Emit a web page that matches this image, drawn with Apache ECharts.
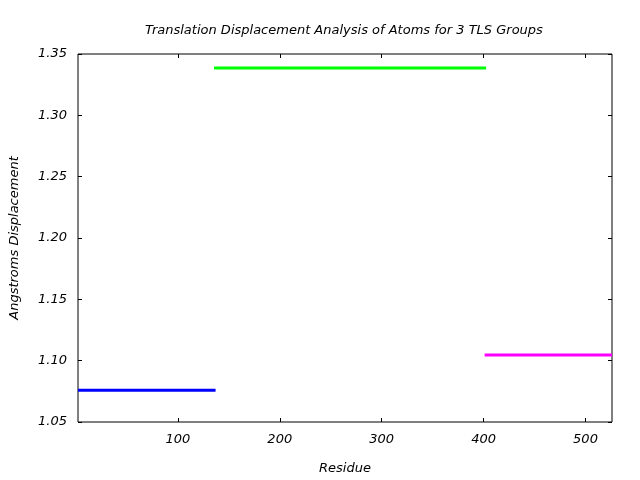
<!DOCTYPE html>
<html><head><meta charset="utf-8">
<script src="https://cdn.jsdelivr.net/npm/echarts@6/dist/echarts.min.js"></script>
<style>html,body{margin:0;padding:0;background:#fff}#c{width:640px;height:480px}</style>
</head><body><div id="c"></div>
<script>
const titleText = "Translation Displacement Analysis of Atoms for 3 TLS Groups";
const xName = "Residue";
const yName = "Angstroms Displacement";
const xMin = 2, xMax = 526;
const yMin = 1.05, yMax = 1.35;
const xTicks = [100, 200, 300, 400, 500];
const yTicks = [1.05, 1.10, 1.15, 1.20, 1.25, 1.30, 1.35];
const groupNames = ["TLS Group 1", "TLS Group 2", "TLS Group 3"];
const groupStart = [2, 135.5, 401];
const groupEnd = [137, 402.5, 526];
const groupValue = [1.0758, 1.3386, 1.1046];
const groupColors = ["#0000ff", "#00ff00", "#ff00ff"];

const font = "DejaVu Sans";
const fs = 13;
const series = groupNames.map((n, i) => ({
  name: n, type: "line", symbol: "none", animation: false,
  lineStyle: { color: groupColors[i], width: 3 },
  data: [[groupStart[i], groupValue[i]], [groupEnd[i], groupValue[i]]],
  xAxisIndex: 0, yAxisIndex: 0, z: 1
}));

const tickStyle = { show: true, inside: true, length: 4, lineStyle: { color: "#000", width: 1 } };
const chart = echarts.init(document.getElementById("c"), null, { renderer: "canvas" });
chart.setOption({
  animation: false,
  title: { text: titleText, left: 140, top: 19,
    textStyle: { fontFamily: font, fontStyle: "italic", fontWeight: "normal", fontSize: fs, color: "#000" } },
  grid: { left: 76, right: 28, top: 54, bottom: 58, show: true, borderColor: "#000", borderWidth: 1, backgroundColor: "transparent" },
  xAxis: [
    { type: "value", min: xMin, max: xMax, position: "bottom",
      name: xName, nameLocation: "middle", nameGap: 40,
      nameTextStyle: { fontFamily: font, fontStyle: "italic", fontSize: fs, color: "#000" },
      axisLine: { show: false }, splitLine: { show: false },
      axisTick: Object.assign({ customValues: xTicks }, tickStyle),
      axisLabel: { customValues: xTicks, margin: 11, fontFamily: font, fontStyle: "italic", fontSize: fs, color: "#000" } },
    { type: "value", min: xMin, max: xMax, position: "top",
      axisLine: { show: false }, splitLine: { show: false },
      axisTick: Object.assign({ customValues: xTicks }, tickStyle),
      axisLabel: { show: false } }
  ],
  yAxis: [
    { type: "value", min: yMin, max: yMax, interval: 0.05, position: "left",
      name: yName, nameLocation: "middle", nameGap: 57, nameRotate: 90,
      nameTextStyle: { fontFamily: font, fontStyle: "italic", fontSize: fs, color: "#000" },
      axisLine: { show: false }, splitLine: { show: false },
      axisTick: Object.assign({ customValues: yTicks }, tickStyle),
      axisLabel: { customValues: yTicks, margin: 11, fontFamily: font, fontStyle: "italic", fontSize: fs, color: "#000",
        formatter: v => Number(v).toFixed(2) } },
    { type: "value", min: yMin, max: yMax, interval: 0.05, position: "right",
      axisLine: { show: false }, splitLine: { show: false },
      axisTick: Object.assign({ customValues: yTicks }, tickStyle),
      axisLabel: { show: false } }
  ],
  series: series
});
</script></body></html>
